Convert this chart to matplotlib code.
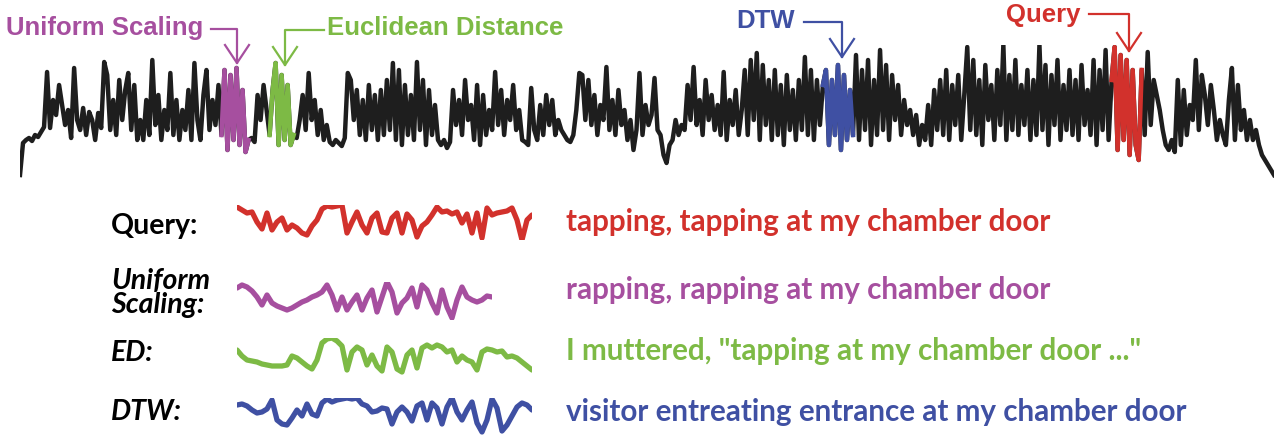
import matplotlib.pyplot as plt
import numpy as np

# long recording (height above the lowest level)
stream = [
    5, 37, 40, 42, 39, 45, 43, 48, 53, 108,
    52, 80, 65, 95, 75, 55, 70, 42, 112, 60,
    50, 72, 45, 68, 60, 40, 67, 52, 118, 105,
    50, 80, 45, 100, 60, 90, 107, 50, 95, 40,
    60, 40, 80, 45, 120, 55, 85, 40, 70, 50,
    107, 45, 80, 40, 70, 50, 90, 40, 117, 60,
    40, 85, 110, 50, 80, 55, 95, 45,
    110, 30, 105, 40, 112, 35, 90, 28,
    40, 42, 38, 85, 60, 95, 70, 45,
    90, 117, 35, 105, 40, 95, 35,
    45, 42, 60, 85, 50, 107, 60, 80, 45,
    70, 40, 55, 38, 35, 40, 37, 34, 42, 107,
    100, 60, 90, 45, 80, 40, 95, 50, 85, 40,
    90, 45, 100, 50, 117, 40, 110, 35, 95, 45,
    85, 40, 118, 50, 100, 35, 90, 45, 75, 40,
    35, 40, 32, 38, 90, 55, 80, 45, 100, 60,
    75, 40, 95, 35, 85, 45, 70, 50, 108, 55,
    90, 45, 80, 60, 95, 50, 70, 40, 38, 35,
    92, 50, 40, 75, 45, 85, 55, 80, 45, 60,
    50, 45, 40, 38, 45, 70, 107, 105, 60, 100,
    55, 85, 45, 75, 60, 113, 50, 80, 45, 90,
    55, 70, 40, 60, 30, 50, 107, 45, 75, 55,
    65, 102, 50, 45, 25, 17, 35, 40, 60, 45,
    55, 50, 95, 60, 113, 55, 80, 45, 100, 60,
    85, 50, 75, 45, 108, 40, 80, 55, 90, 45,
    70, 110, 45, 120, 60, 127, 40, 115, 55, 100,
    40, 110, 45, 95, 35, 105, 50, 90, 40, 100,
    50, 123, 45, 110, 40, 100, 55, 95,
    110, 35, 100, 45, 115, 30, 105, 40, 90,
    45, 125, 40, 110, 50, 120, 35, 100, 45, 130,
    50, 115, 40, 105, 60, 95, 45, 80, 55, 70,
    45, 65, 35, 55, 40, 75, 35, 90, 50, 100,
    45, 110, 40, 95, 55, 105, 40, 85, 133, 50,
    120, 45, 100, 35, 115, 60, 95, 40, 110, 55,
    135, 40, 105, 50, 120, 45, 95, 55, 110, 40,
    100, 45, 135, 50, 115, 35, 105, 55, 120, 40,
    95, 50, 110, 45, 100, 40, 115, 55, 90, 45,
    120, 35, 110, 50, 130, 40, 100,
    133, 30, 125, 40, 120, 25, 110, 35, 20,
    110, 45, 128, 55, 100, 85, 70, 50, 35, 30,
    40, 28, 100, 35, 90, 45, 75, 60, 120, 50,
    105, 85, 55, 95, 70, 40, 60, 45, 35, 80,
    112, 40, 95, 50, 70, 40, 60, 40, 50, 35,
    25, 20, 15, 10, 5,
]

# matched subsequences
query = [33, 30, 27, 28, 18, 11, 27, 10, 18, 22, 10, 15, 12, 7, 5, 14, 20, 31, 34, 33,
         34, 35, 7, 18, 28, 15, 7, 22, 27, 8, 7, 22, 27, 7, 26, 20, 3, 14, 18, 25,
         33, 28, 29, 26, 28, 17, 26, 7, 27, 2, 32, 25, 27, 28, 29, 32, 20, 0, 20, 25]
uniform = [32, 35, 33, 29, 23, 15, 25, 17, 14, 12, 10, 12, 15, 18, 20, 23, 25, 28, 35, 25,
           10, 23, 10, 18, 25, 10, 22, 30, 8, 23, 38, 28, 7, 17, 22, 32, 13, 35, 30, 17,
           7, 30, 13, 2, 20, 33, 23, 20, 18, 20, 24, 23]
euclid = [25, 19, 15, 14, 13, 11, 10, 9, 9, 9, 10, 19, 17, 13, 9, 6, 15, 32, 36, 37,
          34, 29, 5, 23, 28, 25, 10, 20, 9, 4, 28, 23, 6, 3, 20, 25, 7, 27, 30, 27,
          30, 28, 23, 25, 13, 19, 15, 13, 5, 23, 26, 25, 23, 24, 18, 19, 17, 13, 9, 5]
dtw = [30, 31, 29, 25, 22, 23, 26, 35, 15, 11, 10, 17, 25, 19, 31, 21, 19, 32, 36, 33,
       35, 36, 37, 36, 37, 31, 29, 23, 24, 27, 26, 11, 23, 28, 23, 14, 29, 32, 15, 32,
       27, 11, 28, 37, 23, 15, 25, 33, 12, 3, 15, 36, 27, 4, 10, 19, 28, 32, 30, 25]

# where each match sits in the long recording (sample indices)
hits = {"uniform": (67, 76), "euclid": (83, 91), "dtw": (267, 277), "query": (363, 373)}

names = ["Query", "Uniform Scaling", "Euclidean Distance", "DTW"]
row_labels = ["Query:", "Uniform\nScaling:", "ED:", "DTW:"]
phrases = ["tapping, tapping at my chamber door",
           "rapping, rapping at my chamber door",
           "I muttered, \"tapping at my chamber door ...\"",
           "visitor entreating entrance at my chamber door"]

RED, PURPLE, GREEN, BLUE = "#d2312c", "#a64f9f", "#7dba45", "#3f50a3"

W, H = 1285, 443
fig = plt.figure(figsize=(W / 100, H / 100), dpi=100)


def px_axes(x0, x1, ytop, ybot):
    ax = fig.add_axes([x0 / W, 1 - ybot / H, (x1 - x0) / W, (ybot - ytop) / H])
    ax.set_axis_off()
    return ax


# long series on top
ax = px_axes(20, 1274, 45, 180)
t = np.arange(len(stream))
ax.plot(t, stream, color="#1e1e1e", lw=3.2)
for key, col in [("uniform", PURPLE), ("euclid", GREEN), ("dtw", BLUE), ("query", RED)]:
    a, b = hits[key]
    ax.plot(t[a:b + 1], stream[a:b + 1], color=col, lw=3.2)
ax.set_xlim(0, len(stream) - 1)
ax.set_ylim(0, 135)

# overlay in pixel space for the labels and arrows
ov = fig.add_axes([0, 0, 1, 1])
ov.set_xlim(0, W)
ov.set_ylim(H, 0)
ov.set_axis_off()

top_font = dict(family="Liberation Sans", weight="bold", fontsize=18.5, va="center")


def pointer(label, col, tx, ty, path, tip):
    ov.text(tx, ty, label, color=col, ha="left", **top_font)
    xs, ys = zip(*path)
    ov.plot(xs, ys, color=col, lw=1.6)
    px, py = tip
    ov.plot([px - 12, px, px + 12], [py - 18, py, py - 18], color=col, lw=1.6)


pointer(names[1], PURPLE, 6, 28, [(211, 29), (237, 29), (237, 63)], (237, 63))
pointer(names[2], GREEN, 327, 28, [(324, 30), (285, 30), (285, 65)], (285, 65))
pointer(names[3], BLUE, 736, 21, [(804, 22), (842, 22), (842, 57)], (842, 57))
pointer(names[0], RED, 1006, 15, [(1089, 14), (1129, 14), (1129, 51)], (1129, 51))

# the four matches below
rows = [(query, RED, 237, 532, 205, 240),
        (uniform, PURPLE, 237, 492, 282, 320),
        (euclid, GREEN, 237, 532, 338, 375),
        (dtw, BLUE, 237, 532, 398, 435)]
for vals, col, x0, x1, ytop, ybot in rows:
    a = px_axes(x0, x1, ytop, ybot)
    a.plot(np.arange(len(vals)), vals, color=col, lw=3.8, solid_capstyle="round")
    a.set_xlim(0, len(vals) - 1)
    a.set_ylim(0, ybot - ytop)

lab_font = dict(family="Lato", weight="bold", fontsize=20.5, color="black", ha="left")
ov.text(111, 226, row_labels[0], va="center", **lab_font)
ov.text(111, 293, row_labels[1], va="center", style="italic", linespacing=0.95, **lab_font)
ov.text(111, 353, row_labels[2], va="center", style="italic", **lab_font)
ov.text(111, 412, row_labels[3], va="center", style="italic", **lab_font)

for phrase, col, y in zip(phrases, [RED, PURPLE, GREEN, BLUE], [222, 290, 351, 412]):
    ov.text(566, y, phrase, color=col, family="Lato", weight="bold", fontsize=21.3,
            ha="left", va="center")

fig.savefig("out.png", dpi=100)
